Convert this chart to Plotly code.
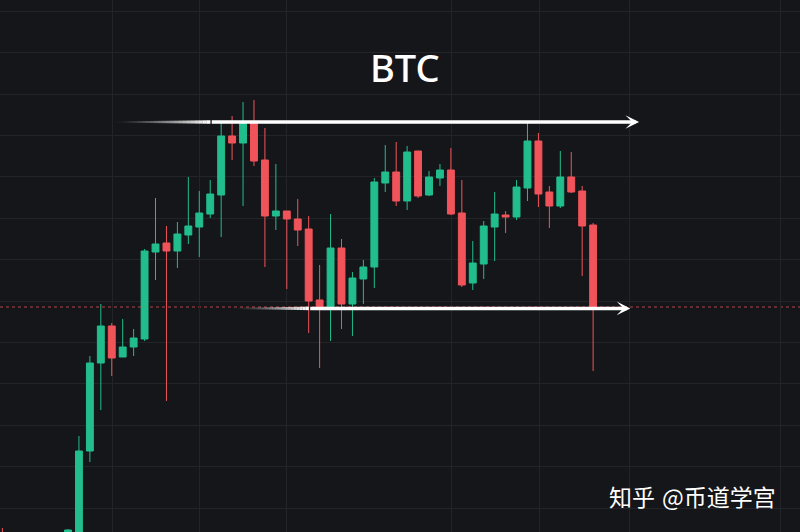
import plotly.graph_objects as go

# ---- data (bar index, OHLC prices) ----
idx = [-6] + list(range(0, 49))
opens = [17000, 17000, 18250, 22450, 26850, 28700, 27150, 27650, 28050, 32400, 32850,
         32450, 33250, 33650, 34300, 35250, 38200, 37850, 38850, 37000, 34200,
         34450, 34050, 33550, 30000, 29550, 32600, 29800, 31050, 31650, 35850,
         36400, 34950, 37450, 35250, 36100, 36500, 34350, 30850, 31800, 33650,
         34250, 34150, 35600, 37950, 35400, 34700, 36150, 35450, 33750]
highs = [18600, 18550, 23200, 27200, 29800, 28850, 29050, 28550, 32550, 35100, 33700,
         33900, 36150, 35450, 36000, 38850, 39200, 39900, 40000, 38600, 36800,
         34450, 35050, 34200, 31750, 34300, 33050, 31400, 32000, 36100, 37750,
         37900, 37700, 37450, 36450, 36800, 37600, 36000, 32950, 33950, 35400,
         34450, 36000, 38850, 38350, 35700, 37450, 37400, 35700, 33850]
lows = [15000, 16500, 17750, 21900, 24500, 26200, 27150, 27200, 27950, 31000, 24950,
        31600, 32800, 32150, 34100, 33150, 37000, 34700, 36700, 31650, 33500,
        30550, 32700, 28350, 26600, 27950, 28550, 28200, 29800, 30600, 35400,
        34700, 34500, 35100, 35200, 35700, 34250, 30650, 30500, 31050, 31950,
        33350, 34000, 34950, 34650, 33600, 34600, 35350, 31200, 26450]
closes = [16000, 18500, 22450, 26850, 28700, 27100, 27650, 28100, 32450, 32800, 32450,
          33300, 33700, 34350, 35300, 38200, 37850, 38850, 36950, 34200, 34450,
          34050, 33500, 29950, 29550, 32600, 29800, 31100, 31650, 35900, 36400,
          34950, 37400, 35200, 36150, 36500, 34300, 30750, 31850, 33700, 34300,
          34150, 35650, 37950, 35300, 34700, 36150, 35400, 33700, 29650]

title_text = "BTC"
watermark_left = "知乎"
watermark_right = "@币道学宫"

# reference levels drawn as arrows
resist_price = 38900
resist_fade = (4.3, 13.0)
resist_tip = 52.2
support_price = 29580
support_fade = (15.3, 22.0)
support_tip = 51.4
last_price = closes[-1]

# vertical grid positions (bar index)
vgrid = [4.1, 12, 20, 35.1, 43.1, 51.3, 65.1]

BG = "#151619"
GRID = "#222427"
UP = "#22bd8c"
DOWN = "#f0545a"

fig = go.Figure(go.Candlestick(
    x=idx, open=opens, high=highs, low=lows, close=closes,
    increasing=dict(line=dict(color=UP, width=1), fillcolor=UP),
    decreasing=dict(line=dict(color=DOWN, width=1), fillcolor=DOWN),
    whiskerwidth=0, hoverinfo="skip",
))

shapes = [dict(type="line", xref="paper", x0=0, x1=1, yref="y", y0=last_price, y1=last_price,
               line=dict(color="rgba(240,84,90,0.75)", width=1, dash="dot"), layer="between")]

def fade(x0, x1, y, n=24):
    out = []
    step = (x1 - x0) / n
    for k in range(n):
        a = (k + 1) / n
        a = a ** 1.3
        out.append(dict(type="line", xref="x", yref="y",
                        x0=x0 + k * step, x1=x0 + (k + 1) * step + step * 0.05, y0=y, y1=y,
                        line=dict(color=f"rgba(255,255,255,{a:.3f})", width=1.5 + 2.0 * a),
                        layer="above"))
    return out

shapes += fade(resist_fade[0], resist_fade[1], resist_price)
shapes += fade(support_fade[0], support_fade[1], support_price)

annotations = [
    dict(x=resist_tip, y=resist_price, ax=resist_fade[1], ay=resist_price,
         xref="x", yref="y", axref="x", ayref="y", text="", showarrow=True,
         arrowhead=3, arrowwidth=3.5, arrowsize=0.65, arrowcolor="white", standoff=0),
    dict(x=support_tip, y=support_price, ax=support_fade[1], ay=support_price,
         xref="x", yref="y", axref="x", ayref="y", text="", showarrow=True,
         arrowhead=3, arrowwidth=3.5, arrowsize=0.65, arrowcolor="white", standoff=0),
    dict(x=0.506, y=1 - 67 / 532, xref="paper", yref="paper", text=title_text,
         showarrow=False, xanchor="center", yanchor="middle",
         font=dict(family="Noto Sans", size=38, color="white", weight=500)),
    dict(x=607 / 800, y=1 - 496 / 532, xref="paper", yref="paper", text=watermark_left,
         showarrow=False, xanchor="left", yanchor="middle",
         font=dict(family="Noto Sans CJK SC", size=23, color="white")),
    dict(x=778 / 800, y=1 - 496 / 532, xref="paper", yref="paper", text=watermark_right,
         showarrow=False, xanchor="right", yanchor="middle",
         font=dict(family="Noto Sans CJK SC", size=23, color="white")),
]

fig.update_layout(
    width=800, height=532, margin=dict(l=0, r=0, t=0, b=0),
    paper_bgcolor=BG, plot_bgcolor=BG, showlegend=False,
    boxgap=0.1, boxgroupgap=0.3,
    shapes=shapes, annotations=annotations,
    xaxis=dict(range=[-68 / 10.94, 732 / 10.94], rangeslider=dict(visible=False),
               tickmode="array", tickvals=vgrid, showticklabels=False,
               showgrid=True, gridcolor=GRID, gridwidth=1, zeroline=False, showline=False),
    yaxis=dict(range=[18400, 45000], tick0=29950, dtick=2070, showticklabels=False,
               showgrid=True, gridcolor=GRID, gridwidth=1, zeroline=False, showline=False),
)

fig.write_html(
    "out.html",
    config={"displayModeBar": False},
    post_script="document.body.style.margin='0';document.body.style.background='#151619';",
)
